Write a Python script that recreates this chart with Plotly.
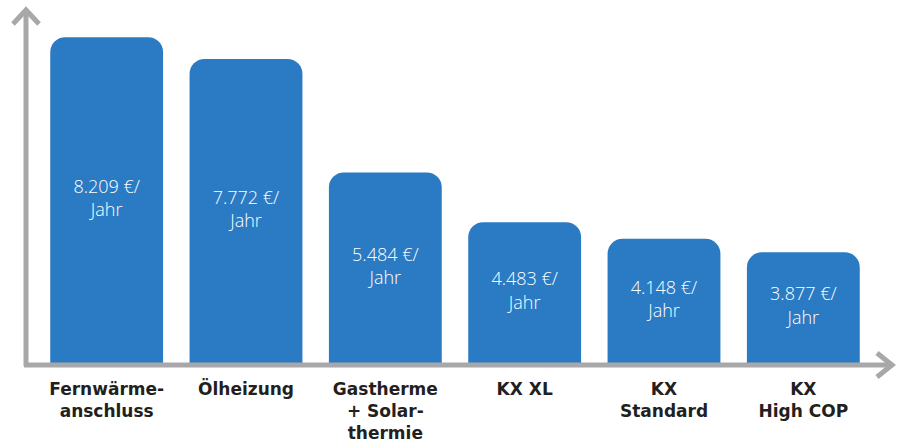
import plotly.graph_objects as go

categories = ["Fernwärme-<br>anschluss", "Ölheizung", "Gastherme<br>+ Solar-<br>thermie",
              "KX XL", "KX<br>Standard", "KX<br>High COP"]
costs = [8209, 7772, 5484, 4483, 4148, 3877]
value_labels = ["8.209 €/<br>Jahr", "7.772 €/<br>Jahr", "5.484 €/<br>Jahr",
                "4.483 €/<br>Jahr", "4.148 €/<br>Jahr", "3.877 €/<br>Jahr"]

W, H = 898, 441
L, R, T, B = 37, 25, 20, 78
PW, PH = W - L - R, H - T - B
BLUE = "#2a7bc3"
GRAY = "#a8a8aa"
Y_MIN, Y_MAX = 1647, 8555

def px(x):
    return (x - L) / PW

def py(y):
    return (H - B - y) / PH

fig = go.Figure()
fig.add_trace(go.Bar(
    x=categories, y=costs, textposition="none",
    marker=dict(color=BLUE, line=dict(width=0)),
    hoverinfo="skip",
))
# value labels centred in the visible part of each bar
fig.add_trace(go.Scatter(
    x=categories, y=[(c + Y_MIN) / 2 for c in costs], text=value_labels,
    mode="text", textposition="middle center",
    textfont=dict(family="Open Sans", size=18, color="white", weight=300),
    hoverinfo="skip", cliponaxis=False,
))

line = dict(color=GRAY, width=5)
shapes = [
    dict(type="line", xref="paper", yref="paper", x0=px(26), x1=px(26), y0=py(366), y1=py(11), line=line, layer="above"),
    dict(type="line", xref="paper", yref="paper", x0=px(24), x1=px(891), y0=py(365), y1=py(365), line=line, layer="above"),
    dict(type="path", xref="paper", yref="paper",
         path=f"M {px(13)} {py(24)} L {px(26)} {py(10)} L {px(39)} {py(24)}", line=line, layer="above"),
    dict(type="path", xref="paper", yref="paper",
         path=f"M {px(877)} {py(353)} L {px(892)} {py(365)} L {px(877)} {py(377)}", line=line, layer="above"),
]

fig.update_layout(
    width=W, height=H,
    margin=dict(l=L, r=R, t=T, b=B, autoexpand=False),
    paper_bgcolor="white", plot_bgcolor="white",
    bargap=0.19, barcornerradius=15,
    showlegend=False,
    shapes=shapes,
    xaxis=dict(showgrid=False, zeroline=False, showline=False, ticks="", automargin=False,
               tickfont=dict(family="DejaVu Sans", size=17, color="#231f20", weight="bold"),
               ticklabelstandoff=14, fixedrange=True),
    yaxis=dict(range=[Y_MIN, Y_MAX], showgrid=False, zeroline=False, showline=False, automargin=False,
               showticklabels=False, ticks="", fixedrange=True),
)

fig.write_html("out.html", config={"displayModeBar": False},
               post_script="document.body.style.margin='0';document.body.style.overflow='hidden';")
